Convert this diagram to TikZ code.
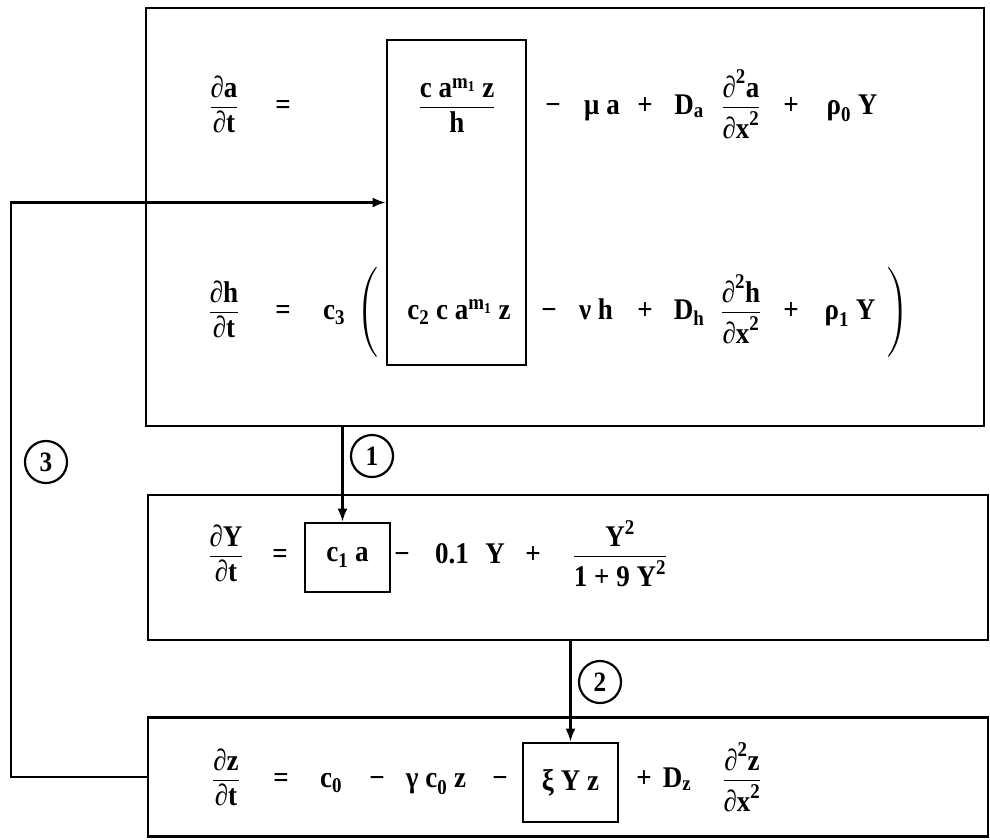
\documentclass[tikz,border=0pt]{standalone}
\usepackage{fontspec}
\setmainfont{Liberation Serif}[FakeStretch=0.9]
\usepackage{amsmath}
\usetikzlibrary{arrows.meta}
\newcommand{\T}[1]{\text{#1}}
\begin{document}
\begin{tikzpicture}[x=1pt,y=-1pt,
  frame/.style={draw,line width=2.8pt,inner sep=0},
  eq/.style={inner sep=0,anchor=base,font=\fontsize{30}{34}\selectfont\bfseries},
  boxed/.style={frame,font=\fontsize{30}{34}\selectfont\bfseries},
  num/.style={draw,circle,line width=2.2pt,minimum size=42pt,inner sep=0,font=\fontsize{28}{32}\selectfont\bfseries},
  link/.style={line width=2.2pt,-{Latex[length=13pt,width=10pt]}}]
\useasboundingbox (0,0) rectangle (990,839);

% frames
\node[frame,minimum width=838pt,minimum height=418pt] (box1) at (565,217) {};
\node[frame,minimum width=139pt,minimum height=325pt] (ibox) at (456.5,202.5) {};
\node[frame,minimum width=840pt,minimum height=145pt] (box2) at (568,567.5) {};
\node[frame,minimum width=840pt,minimum height=119pt] (box3) at (568,777) {};
\node[boxed,minimum width=85pt,minimum height=69pt] (c1a) at (347.5,557.5) {$\T{c}_{\T{1}}\T{ a}$};
\node[boxed,minimum width=95pt,minimum height=79pt] (xyz) at (570.5,782.5) {ξ Y z};

% row 1
\node[eq] (a1) at (224,114) {$\dfrac{\T{∂a}}{\T{∂t}}$};
\node[eq] (a2) at (283,114) {=};
\node[eq] (a3) at (457,114) {$\dfrac{\T{c a}^{\T{m}_{\T{1}}}\T{ z}}{\T{h}}$};
\node[eq] (a4) at (553,114) {−};
\node[eq] (a5) at (602,114) {μ a};
\node[eq] (a6) at (645,114) {+};
\node[eq] (a7) at (689,114) {$\T{D}_{\T{a}}$};
\node[eq] (a8) at (741,114) {$\dfrac{\T{∂}^{\T{2}}\T{a}}{\T{∂x}^{\T{2}}}$};
\node[eq] (a9) at (791,114) {+};
\node[eq] (a10) at (852,114) {$\T{ρ}_{\T{0}}\T{ Y}$};

% row 2
\node[eq] (h1) at (224,319) {$\dfrac{\T{∂h}}{\T{∂t}}$};
\node[eq] (h2) at (283,319) {=};
\node[eq] (h3) at (334,319) {$\T{c}_{\T{3}}$};
\node[eq] (h4) at (368,319) {$\left(\rule[-36.5pt]{0pt}{87pt}\right.$};
\node[eq] (h5) at (459,319) {$\T{c}_{\T{2}}\T{ c a}^{\T{m}_{\T{1}}}\T{ z}$};
\node[eq] (h6) at (549,319) {−};
\node[eq] (h7) at (596,319) {ν h};
\node[eq] (h8) at (645,319) {+};
\node[eq] (h9) at (689,319) {$\T{D}_{\T{h}}$};
\node[eq] (h10) at (741,319) {$\dfrac{\T{∂}^{\T{2}}\T{h}}{\T{∂x}^{\T{2}}}$};
\node[eq] (h11) at (791,319) {+};
\node[eq] (h12) at (850,319) {$\T{ρ}_{\T{1}}\T{ Y}$};
\node[eq] (h13) at (898,319) {$\left.\rule[-36.5pt]{0pt}{87pt}\right)$};

% row 3
\node[eq] (y1) at (226,563) {$\dfrac{\T{∂Y}}{\T{∂t}}$};
\node[eq] (y2) at (280,563) {=};
\node[eq] (y3) at (402,563) {−};
\node[eq] (y4) at (452,563) {0.1};
\node[eq] (y5) at (495,563) {Y};
\node[eq] (y6) at (533,563) {+};
\node[eq] (y7) at (620,563) {$\dfrac{\T{Y}^{\T{2}}}{\T{1 + 9 Y}^{\T{2}}}$};

% row 4
\node[eq] (z1) at (226,787) {$\dfrac{\T{∂z}}{\T{∂t}}$};
\node[eq] (z2) at (281,787) {=};
\node[eq] (z3) at (331,787) {$\T{c}_{\T{0}}$};
\node[eq] (z4) at (377,787) {−};
\node[eq] (z5) at (436,787) {$\T{γ c}_{\T{0}}\T{ z}$};
\node[eq] (z6) at (500,787) {−};
\node[eq] (z7) at (644,787) {+};
\node[eq] (z8) at (677,787) {$\T{D}_{\T{z}}$};
\node[eq] (z9) at (742,787) {$\dfrac{\T{∂}^{\T{2}}\T{z}}{\T{∂x}^{\T{2}}}$};

% numbered labels
\node[num] (n1) at (372,456) {1};
\node[num] (n2) at (600,682) {2};
\node[num] (n3) at (46,462) {3};

% connectors
\draw[link] ([xshift=-5pt]c1a.north |- box1.south) -- ([xshift=-5pt]c1a.north);
\draw[link] (xyz.north |- box2.south) -- (xyz.north);
\draw[link] (box3.west) -- ++(-136,0) |- (ibox.west);
\end{tikzpicture}
\end{document}
